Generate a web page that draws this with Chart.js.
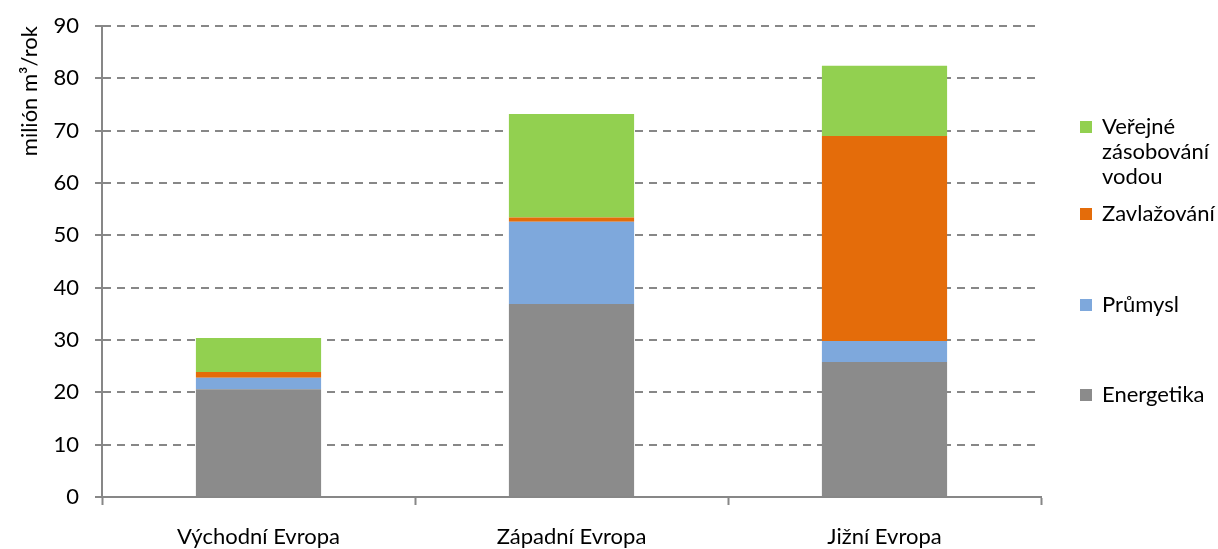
<!DOCTYPE html>
<html lang="cs">
<head>
<meta charset="utf-8">
<title>Odběry vody podle odvětví</title>
<script src="https://cdn.jsdelivr.net/npm/chart.js@4.4.1/dist/chart.umd.min.js"></script>
<style>
  html, body { margin: 0; padding: 0; background: #ffffff; }
  #wrap { position: relative; width: 1218px; height: 549px; }
</style>
</head>
<body>
<div id="wrap"><canvas id="chart"></canvas></div>
<script>
// Regions (categories on the x axis)
const categories = ['Východní Evropa', 'Západní Evropa', 'Jižní Evropa'];

// Water abstraction by sector, million m3 per year
const energetika  = [20.6, 36.9, 25.8];
const prumysl     = [2.2, 15.7, 4.0];
const zavlazovani = [1.1, 0.8, 39.2];
const verejne     = [6.5, 19.8, 13.4];

// Value axis
const yTicks = [0, 10, 20, 30, 40, 50, 60, 70, 80, 90];
const yTitle = 'milión m³/rok';

const FONT = 'Lato, "Open Sans", sans-serif';
const FONT_SIZE = 22;
const GRID = '#878787';

// Legend drawn at the right of the plot, topmost series first
const sideLegend = {
  id: 'sideLegend',
  afterDraw(chart, args, opts) {
    const ctx = chart.ctx;
    const sets = chart.data.datasets.slice().reverse();
    ctx.save();
    ctx.font = opts.font;
    ctx.textBaseline = 'middle';
    ctx.textAlign = 'left';
    sets.forEach((ds, i) => {
      const y0 = opts.rows[i];
      // wrap words into lines no wider than maxWidth
      const words = ds.label.split(' ');
      const lines = [];
      let cur = '';
      words.forEach(w => {
        const test = cur ? cur + ' ' + w : w;
        if (cur && ctx.measureText(test).width > opts.maxWidth) {
          lines.push(cur);
          cur = w;
        } else {
          cur = test;
        }
      });
      if (cur) lines.push(cur);
      ctx.fillStyle = ds.backgroundColor;
      ctx.fillRect(opts.x, y0 - opts.box / 2, opts.box, opts.box);
      ctx.fillStyle = opts.color;
      lines.forEach((ln, k) => {
        ctx.fillText(ln, opts.x + opts.box + opts.gap, y0 + k * opts.lineHeight);
      });
    });
    ctx.restore();
  }
};

new Chart(document.getElementById('chart'), {
  type: 'bar',
  data: {
    labels: categories,
    datasets: [
      { label: 'Energetika', data: energetika, backgroundColor: '#8b8b8b' },
      { label: 'Průmysl', data: prumysl, backgroundColor: '#7ea8dc' },
      { label: 'Zavlažování', data: zavlazovani, backgroundColor: '#e46c0a' },
      { label: 'Veřejné zásobování vodou', data: verejne, backgroundColor: '#92d050' }
    ]
  },
  options: {
    responsive: true,
    maintainAspectRatio: false,
    animation: false,
    layout: { padding: { top: 26, right: 177, bottom: 0, left: 0 } },
    datasets: {
      bar: { categoryPercentage: 1.0, barPercentage: 0.4, borderWidth: 0 }
    },
    plugins: {
      legend: { display: false },
      tooltip: { enabled: false },
      sideLegend: {
        x: 1080, box: 12, gap: 10,
        rows: [127, 214, 305, 395],
        lineHeight: 25,
        maxWidth: 114,
        font: FONT_SIZE + 'px ' + FONT,
        color: '#000000'
      }
    },
    scales: {
      x: {
        stacked: true,
        offset: true,
        grid: {
          display: true,
          offset: true,
          drawOnChartArea: false,
          drawTicks: true,
          tickLength: 8,
          tickWidth: 2,
          color: GRID
        },
        border: { display: true, color: GRID, width: 2 },
        ticks: {
          padding: 19,
          color: '#000000',
          font: { family: FONT, size: FONT_SIZE }
        },
        afterFit(scale) { scale.height = 52; }
      },
      y: {
        stacked: true,
        min: 0,
        max: 90,
        afterBuildTicks(scale) { scale.ticks = yTicks.map(v => ({ value: v })); },
        grid: {
          color: GRID,
          lineWidth: 2,
          drawTicks: true,
          tickLength: 7,
          tickWidth: 2,
          tickBorderDash: []
        },
        border: { display: true, color: GRID, width: 2, dash: [8, 6] },
        ticks: {
          padding: 16,
          color: '#000000',
          font: { family: FONT, size: FONT_SIZE }
        },
        title: {
          display: true,
          text: yTitle,
          align: 'end',
          color: '#000000',
          font: { family: FONT, size: FONT_SIZE },
          padding: { top: 17, bottom: 0 }
        },
        afterFit(scale) {
          scale.width = 102;
          scale.paddingTop = 0;
          scale.paddingBottom = 0;
        }
      }
    }
  },
  plugins: [sideLegend]
});
</script>
</body>
</html>
